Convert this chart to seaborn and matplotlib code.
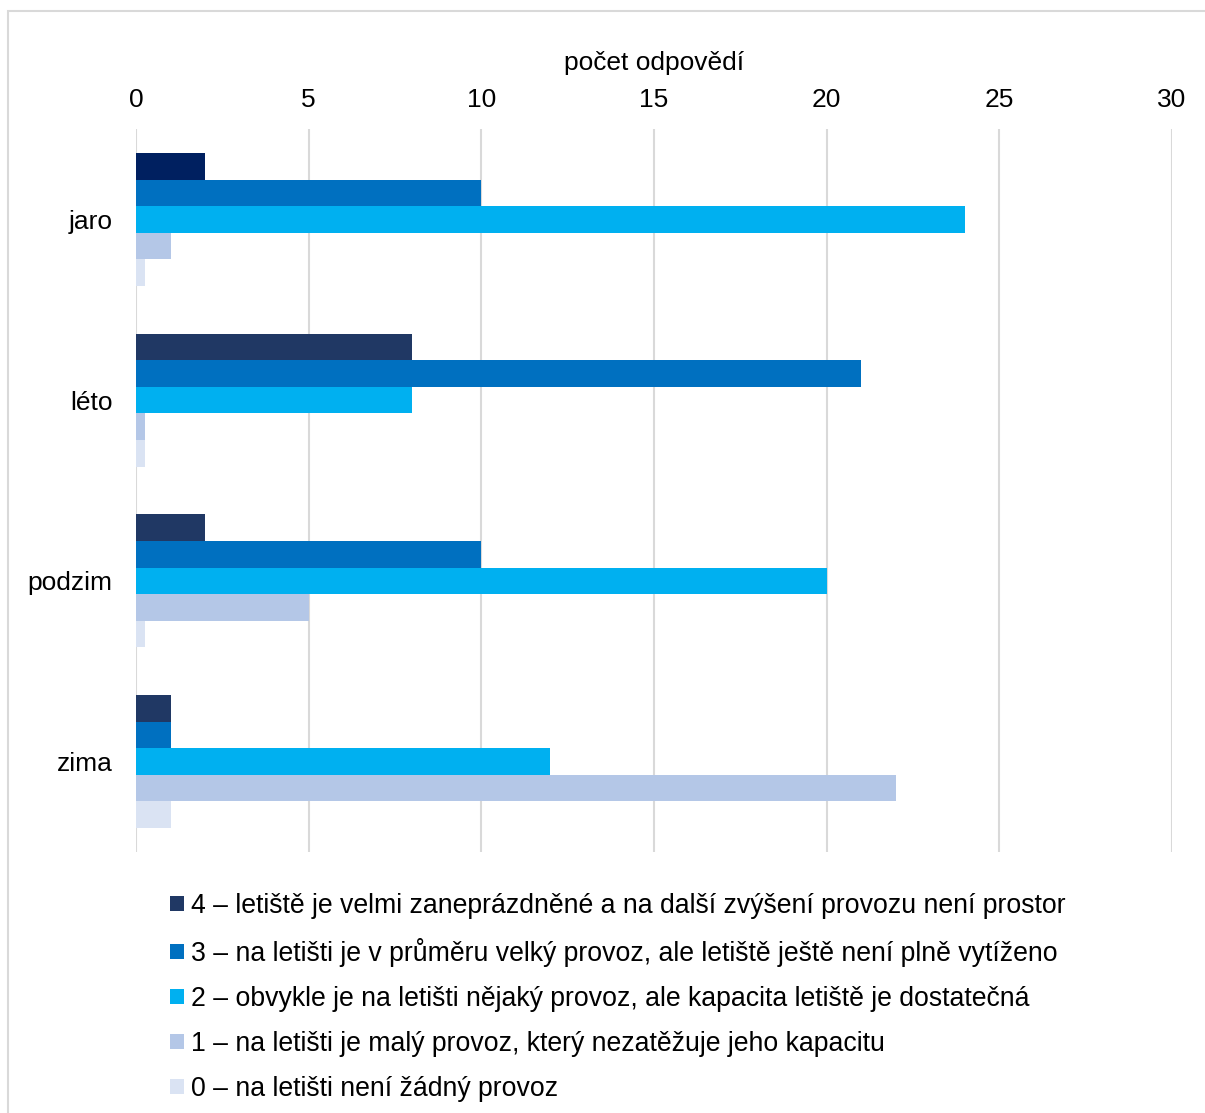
import matplotlib
matplotlib.use("Agg")
import matplotlib.pyplot as plt
import matplotlib.patches as mpatches
import seaborn as sns
import pandas as pd

# Seasons and survey answers (number of responses per traffic level)
seasons = ["jaro", "léto", "podzim", "zima"]
levels = [
    "4 – letiště je velmi zaneprázdněné a na další zvýšení provozu není prostor",
    "3 – na letišti je v průměru velký provoz, ale letiště ještě není plně vytíženo",
    "2 – obvykle je na letišti nějaký provoz, ale kapacita letiště je dostatečná",
    "1 – na letišti je malý provoz, který nezatěžuje jeho kapacitu",
    "0 – na letišti není žádný provoz",
]
level4 = [2, 8, 2, 1]
level3 = [10, 21, 10, 1]
level2 = [24, 8, 20, 12]
level1 = [1, 0.25, 5, 22]
level0 = [0.25, 0.25, 0.25, 1]
x_ticks = [0, 5, 10, 15, 20, 25, 30]
x_label = "počet odpovědí"

colors = ["#203864", "#0070C0", "#00B0F0", "#B4C7E7", "#DAE3F3"]

rows = []
for lvl, vals in zip(levels, [level4, level3, level2, level1, level0]):
    for s, v in zip(seasons, vals):
        rows.append({"season": s, "level": lvl, "count": v})
df = pd.DataFrame(rows)

sns.set_theme(style="white")
plt.rcParams["font.family"] = ["Liberation Sans", "DejaVu Sans"]
plt.rcParams["text.color"] = "#000000"

FS = 19

fig = plt.figure(figsize=(12.05, 11.13), dpi=100)
ax = fig.add_axes([136 / 1205, 1 - 852 / 1113, 1036 / 1205, 723 / 1113])

sns.barplot(
    data=df, y="season", x="count", hue="level", order=seasons,
    hue_order=levels, palette=colors, orient="h", width=0.735,
    linewidth=0, saturation=1, ax=ax, legend=True,
)

# the first spring bar is drawn in a deeper navy
ax.containers[0].patches[0].set_facecolor("#002060")

ax.set_xlim(0, 30)
ax.set_ylim(3.5, -0.5)
ax.set_xticks(x_ticks)
ax.xaxis.set_ticks_position("top")
ax.xaxis.set_label_position("top")
ax.set_xlabel(x_label, fontsize=FS, color="#000000", labelpad=12.5)
ax.set_ylabel("")
ax.tick_params(axis="x", labelsize=FS, colors="#000000", length=0, pad=12.5)
ax.tick_params(axis="y", labelsize=FS, colors="#000000", length=0, pad=17)
ax.grid(axis="x", color="#D9D9D9", linewidth=1.5)
ax.grid(axis="y", visible=False)
ax.set_axisbelow(True)
for sp in ax.spines.values():
    sp.set_visible(False)

handles, labels = ax.get_legend_handles_labels()
ax.get_legend().remove()
fig.legend(
    handles, labels, loc="upper left", bbox_to_anchor=(170 / 1205, 1 - 893 / 1113),
    frameon=False, fontsize=19.2, handlelength=0.52, handleheight=0.52,
    handletextpad=0.25, labelspacing=0.71, borderaxespad=0, borderpad=0,
    labelcolor="#000000",
)

# outer frame of the chart area
fig.patches.append(mpatches.Rectangle(
    (8 / 1205, -0.1), 1.2, 1 - 11 / 1113 + 0.1, transform=fig.transFigure,
    fill=False, edgecolor="#D9D9D9", linewidth=1.5, zorder=0,
))

fig.savefig("out.png", dpi=100, facecolor="white")
